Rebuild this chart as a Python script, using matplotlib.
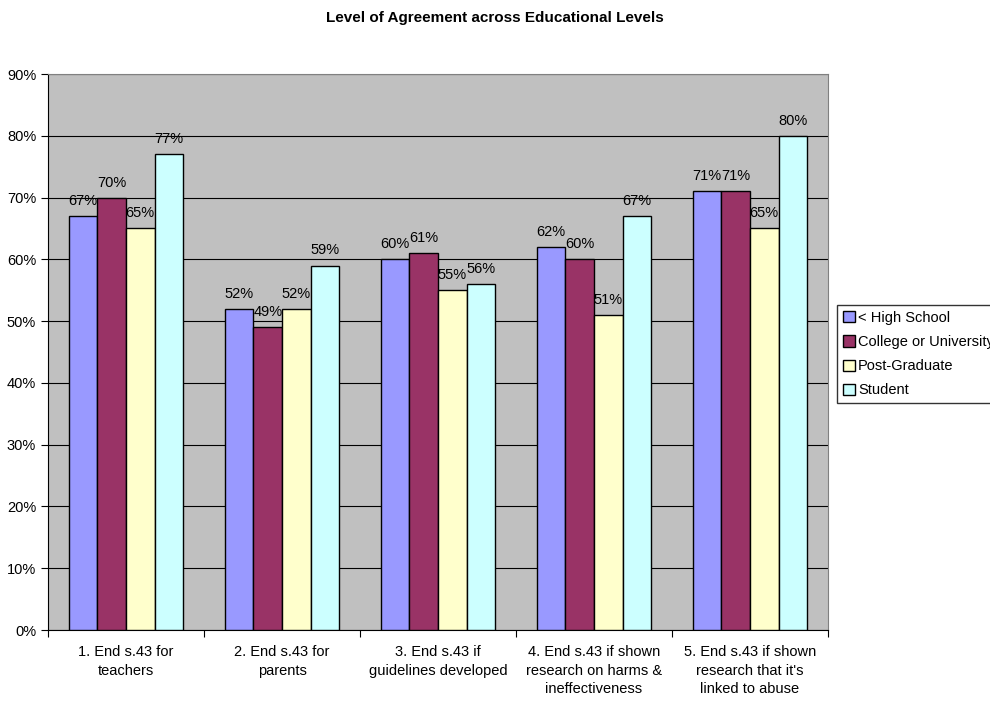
import matplotlib
matplotlib.use("Agg")
import matplotlib.pyplot as plt
import numpy as np

plt.rcParams['font.family'] = ['Liberation Sans', 'DejaVu Sans']

categories = ["1. End s.43 for\nteachers", "2. End s.43 for\nparents",
              "3. End s.43 if\nguidelines developed",
              "4. End s.43 if shown\nresearch on harms &\nineffectiveness",
              "5. End s.43 if shown\nresearch that it's\nlinked to abuse"]
series_names = ["< High School", "College or University", "Post-Graduate", "Student"]
high_school = [67, 52, 60, 62, 71]
college = [70, 49, 61, 60, 71]
post_grad = [65, 52, 55, 51, 65]
student = [77, 59, 56, 67, 80]
values = [high_school, college, post_grad, student]
colors = ["#9999FF", "#993366", "#FFFFCC", "#CCFFFF"]

fig = plt.figure(figsize=(9.9, 7.02), dpi=100)
ax = fig.add_axes([48/990, 1-630/702, (828-48)/990, (630-74)/702])
ax.set_facecolor("#C0C0C0")

x = np.arange(len(categories))
w = 0.183
for i, (name, vals, c) in enumerate(zip(series_names, values, colors)):
    pos = x + (i - 1.5) * w
    ax.bar(pos, vals, width=w, color=c, edgecolor="black", linewidth=1, label=name, zorder=3)
    for p, v in zip(pos, vals):
        ax.text(p, v + 1.3, f"{v}%", ha="center", va="bottom", fontsize=10.5, zorder=4)

ax.set_xlim(-0.5, len(categories) - 0.5)
ax.set_ylim(0, 90)
ax.set_yticks(range(0, 91, 10))
ax.set_yticklabels([f"{t}%" for t in range(0, 91, 10)], fontsize=10.5)
ax.yaxis.grid(True, color="black", linewidth=0.8, zorder=0)
ax.set_axisbelow(True)
ax.set_xticks(np.arange(-0.5, len(categories), 1.0), minor=False)
ax.set_xticklabels([])
ax.set_xticks(x, minor=True)
ax.set_xticklabels(categories, minor=True, fontsize=10.5, linespacing=1.4)
ax.tick_params(axis="x", which="minor", length=0, pad=11)
ax.tick_params(axis="x", which="major", length=5, direction="out")
ax.tick_params(axis="y", length=5, direction="out")
for s in ["top", "right"]:
    ax.spines[s].set_color("#808080")
for s in ["left", "bottom"]:
    ax.spines[s].set_color("black")

fig.text(0.5, 1-18/702, "Level of Agreement across Educational Levels", ha="center", va="center",
         fontsize=11, fontweight="bold")

leg = fig.legend(loc="upper left", bbox_to_anchor=(837/990, 1-305/702), fontsize=10.5,
                 frameon=True, fancybox=False, edgecolor="black", handlelength=0.8,
                 handleheight=0.8, handletextpad=0.25, borderpad=0.4, labelspacing=0.7,
                 borderaxespad=0)
leg.get_frame().set_linewidth(1)

fig.savefig("out.png", dpi=100)
